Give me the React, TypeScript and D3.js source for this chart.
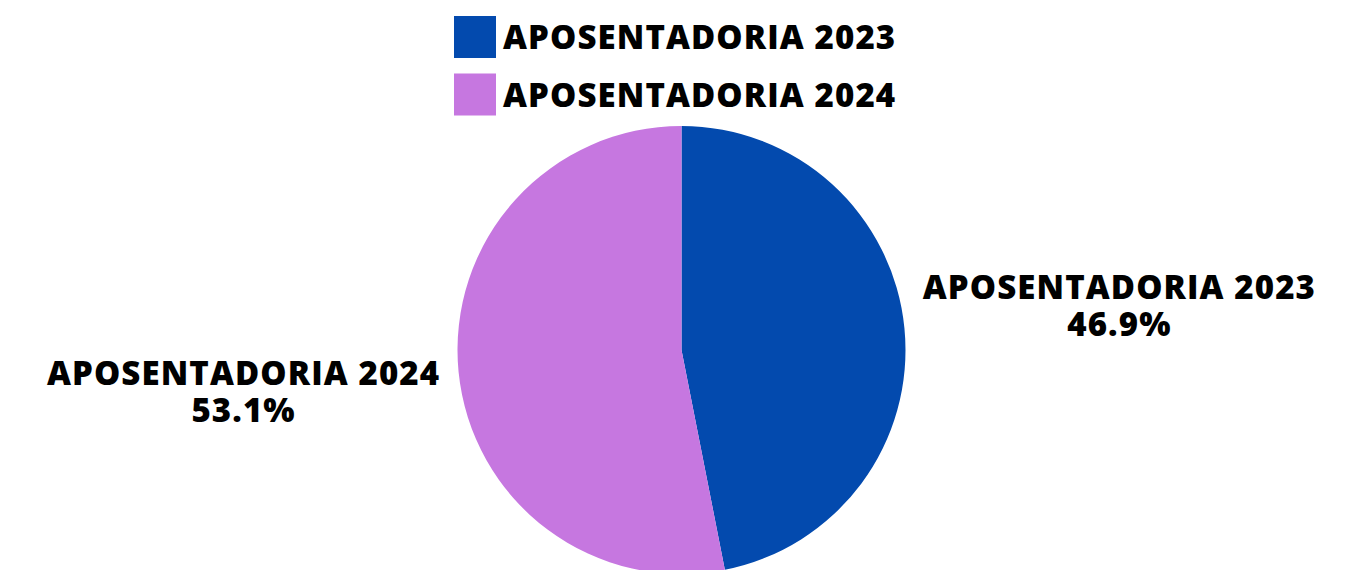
import * as d3 from 'd3'
import { useEffect, useRef } from 'react'

const categories = ['APOSENTADORIA 2023', 'APOSENTADORIA 2024']
const values = [46.9, 53.1]
const colors = ['#034AAE', '#C677E0']

const W = 1356
const H = 570

export default function App() {
    const svgRef = useRef<SVGSVGElement>(null)

    useEffect(() => {
        const svg = d3.select(svgRef.current)
        svg.selectAll('*').remove()

        const cx = 681.5
        const cy = 350
        const r = 224
        const font = "'Open Sans', sans-serif"

        const data = categories.map((c, i) => ({ name: c, value: values[i], color: colors[i] }))

        const pie = d3.pie<any>().value(d => d.value).sort(null)
        const arc = d3.arc<any>().innerRadius(0).outerRadius(r)
        const labelArc = d3.arc<any>().innerRadius(440).outerRadius(440)

        const g = svg.append('g').attr('transform', `translate(${cx},${cy})`)
        const arcs = pie(data)

        g.selectAll('path.slice')
            .data(arcs)
            .join('path')
            .attr('class', 'slice')
            .attr('d', arc)
            .attr('fill', d => d.data.color)

        const labels = g.selectAll('text.lbl')
            .data(arcs)
            .join('text')
            .attr('class', 'lbl')
            .attr('text-anchor', 'middle')
            .attr('font-family', font)
            .attr('font-weight', 800)
            .attr('font-size', 33)
            .attr('letter-spacing', 1.1)
            .attr('fill', '#000')
            .attr('transform', d => {
                const [x, y] = labelArc.centroid(d)
                return `translate(${x},${y})`
            })
        labels.append('tspan').attr('x', 0).attr('y', -8).text(d => d.data.name)
        labels.append('tspan').attr('x', 0).attr('y', 29).text(d => d.data.value.toFixed(1) + '%')

        // legend
        const legend = svg.append('g')
        const items = legend.selectAll('g')
            .data(data)
            .join('g')
            .attr('transform', (d, i) => `translate(454,${16 + i * 57.5})`)
        items.append('rect')
            .attr('width', 42)
            .attr('height', 42)
            .attr('fill', d => d.color)
        items.append('text')
            .attr('x', 49)
            .attr('y', 33)
            .attr('font-family', font)
            .attr('font-weight', 800)
            .attr('font-size', 33)
            .attr('letter-spacing', 1.1)
            .attr('fill', '#000')
            .text(d => d.name)
    }, [])

    return (
        <svg
            ref={svgRef}
            width={W}
            height={H}
            style={{ position: 'absolute', left: 0, top: 0, background: '#fff' }}
        />
    )
}
